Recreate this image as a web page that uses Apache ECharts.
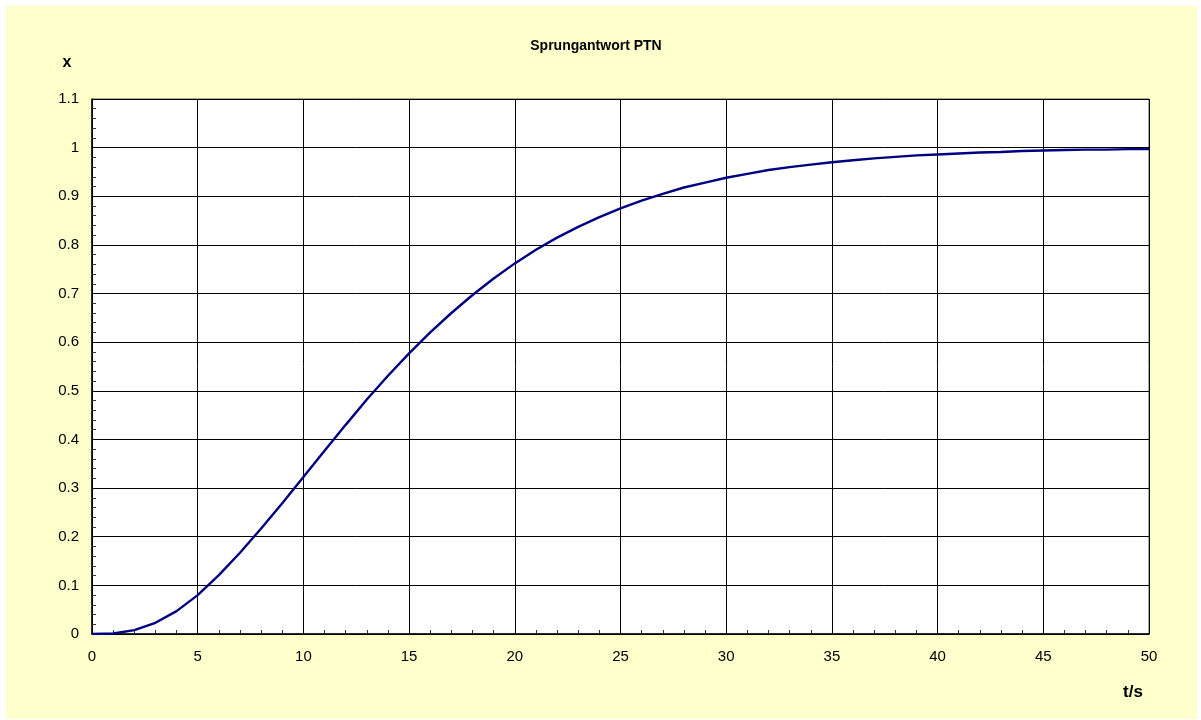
<!DOCTYPE html>
<html>
<head>
<meta charset="utf-8">
<script src="https://cdn.jsdelivr.net/npm/echarts@6/dist/echarts.min.js"></script>
<style>
html,body{margin:0;padding:0;background:#fff;}
#c{width:1201px;height:720px;}
</style>
</head>
<body>
<div id="c"></div>
<script>
const titleText = 'Sprungantwort PTN';
const xName = 't/s';
const yName = 'x';
const tValues = [0,1,2,3,4,5,6,7,8,9,10,11,12,13,14,15,16,17,18,19,20,21,22,23,24,25,26,27,28,29,30,31,32,33,34,35,36,37,38,39,40,41,42,43,44,45,46,47,48,49,50];
const xValues = [0,0.001,0.008,0.023,0.047,0.080,0.121,0.167,0.217,0.269,0.323,0.377,0.430,0.482,0.531,0.577,0.620,0.660,0.697,0.731,0.762,0.790,0.815,0.837,0.857,0.875,0.891,0.905,0.918,0.928,0.938,0.946,0.954,0.960,0.965,0.970,0.974,0.978,0.981,0.984,0.986,0.988,0.990,0.991,0.993,0.994,0.995,0.996,0.996,0.997,0.997];

const data = tValues.map((t, i) => [t, xValues[i]]);
const font = '"Liberation Sans", Arial, sans-serif';
const chart = echarts.init(document.getElementById('c'));
chart.setOption({
  animation: false,
  backgroundColor: '#ffffff',
  graphic: [
    {type: 'rect', z: -100, silent: true, shape: {x: 6, y: 6, width: 1191, height: 713}, style: {fill: '#FFFFCC'}},
    {type: 'text', z: 100, x: 596, y: 46, style: {text: titleText, font: 'bold 14px ' + font, fill: '#000', align: 'center', verticalAlign: 'middle'}},
    {type: 'text', z: 100, x: 67, y: 63, style: {text: yName, font: 'bold 16px ' + font, fill: '#000', align: 'center', verticalAlign: 'middle'}},
    {type: 'text', z: 100, x: 1133, y: 692, style: {text: xName, font: 'bold 17px ' + font, fill: '#000', align: 'center', verticalAlign: 'middle'}}
  ],
  grid: {left: 92, right: 52, top: 99, bottom: 86, show: true, backgroundColor: '#ffffff', borderColor: '#555', borderWidth: 1},
  xAxis: {
    type: 'value', min: 0, max: 50, interval: 5,
    axisLine: {show: true, onZero: false, lineStyle: {color: '#000', width: 1.5}},
    axisTick: {show: true, inside: true, length: 4, lineStyle: {color: '#000'}},
    minorTick: {show: true, splitNumber: 5, length: 4, lineStyle: {color: '#333'}},
    splitLine: {show: true, lineStyle: {color: '#000', width: 1}},
    axisLabel: {color: '#000', fontFamily: font, fontSize: 15, margin: 15}
  },
  yAxis: {
    type: 'value', min: 0, max: 1.1, interval: 0.1,
    axisLine: {show: true, lineStyle: {color: '#000', width: 1.5}},
    axisTick: {show: true, inside: true, length: 4, lineStyle: {color: '#000'}},
    minorTick: {show: true, splitNumber: 5, length: 4, lineStyle: {color: '#333'}},
    splitLine: {show: true, lineStyle: {color: '#000', width: 1}},
    axisLabel: {color: '#000', fontFamily: font, fontSize: 15, margin: 13,
      formatter: v => String(Math.round(v * 10) / 10)}
  },
  series: [{
    type: 'line', data: data, showSymbol: false, symbol: 'none', smooth: false,
    lineStyle: {color: '#000080', width: 2.4}, z: 10
  }]
});
</script>
</body>
</html>
